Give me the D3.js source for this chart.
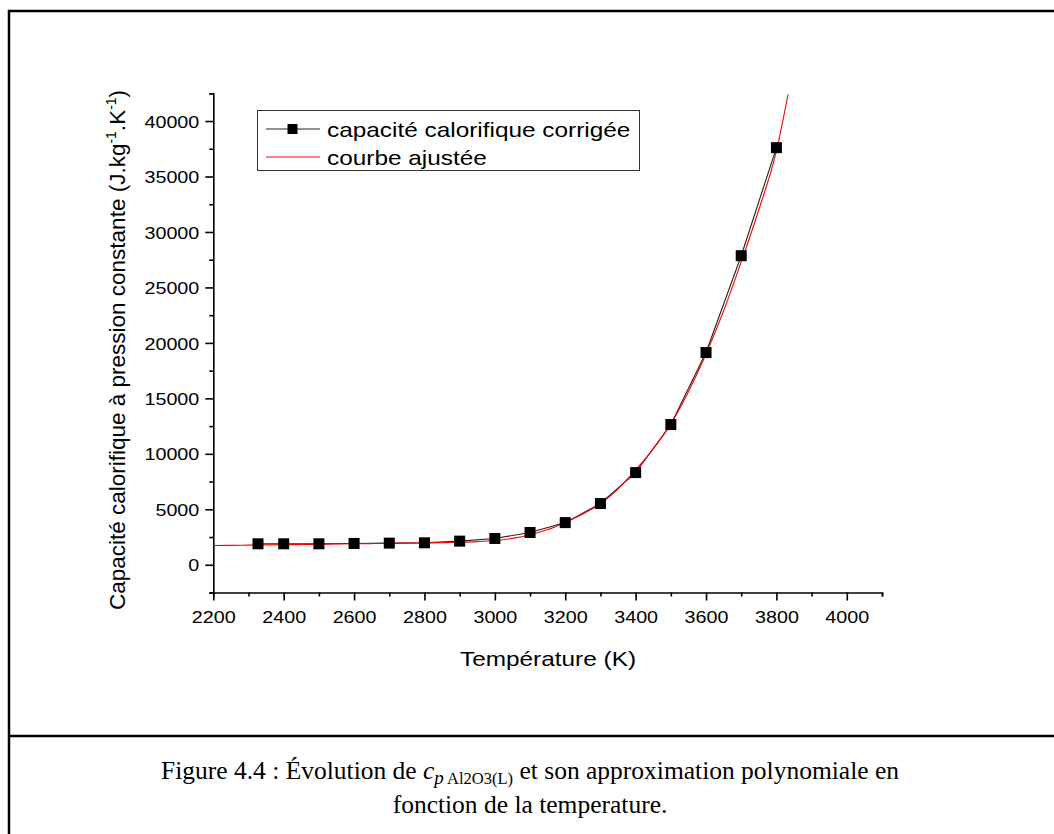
<!DOCTYPE html>
<html lang="en">
<head>
<meta charset="utf-8">
<script src="https://d3js.org/d3.v7.min.js"></script>
<style>
  body { margin: 0; background: #fff; }
  text { font-family: "Liberation Sans", Arial, sans-serif; }
</style>
</head>
<body>
<div id="chart"></div>
<script>

// measured cp values (K, J/kg/K)
var tempPoints = [2327, 2400, 2500, 2600, 2700, 2800, 2900, 3000, 3100, 3200, 3300, 3400, 3500, 3600, 3700, 3800];
var cpPoints   = [1890, 1890, 1890, 1920, 1950, 1980, 2130, 2370, 2910, 3800, 5520, 8310, 12640, 19130, 27860, 37600];

// fitted curve
var tempFit = [2200, 2250, 2300, 2350, 2400, 2450, 2500, 2550, 2600, 2650, 2700, 2750, 2800, 2850, 2900, 2950, 3000, 3050, 3100, 3150, 3200, 3250, 3300, 3350, 3400, 3450, 3500, 3550, 3600, 3650, 3700, 3750, 3800, 3833];
var cpFit   = [1740, 1750, 1770, 1790, 1810, 1830, 1850, 1870, 1890, 1910, 1930, 1950, 1970, 1990, 2030, 2090, 2190, 2380, 2700, 3170, 3820, 4580, 5500, 6850, 8550, 10450, 12700, 15600, 19000, 22900, 27300, 32000, 37300, 42400];

var xTicks = [2200, 2400, 2600, 2800, 3000, 3200, 3400, 3600, 3800, 4000];
var yTicks = [0, 5000, 10000, 15000, 20000, 25000, 30000, 35000, 40000];

var W = 1054, H = 834;
var svg = d3.select("#chart").append("svg")
  .attr("width", W).attr("height", H);

// the original text looks horizontally stretched
function widen(sel, k) {
  sel.each(function() {
    var len = this.getComputedTextLength();
    d3.select(this).attr("textLength", len * k).attr("lengthAdjust", "spacingAndGlyphs");
  });
}

// frame around figure and caption
svg.append("path")
  .attr("d", "M9,860 L9,11 L1060,11")
  .attr("fill", "none").attr("stroke", "#000").attr("stroke-width", 2.5);
svg.append("line")
  .attr("x1", 9).attr("x2", 1060).attr("y1", 736).attr("y2", 736)
  .attr("stroke", "#000").attr("stroke-width", 2.5);

var x = d3.scaleLinear().domain([2200, 4100]).range([213.3, 882]);
var y = d3.scaleLinear().domain([-2500, 42500]).range([592.5, 93.3]);

// x axis
var gx = svg.append("g").attr("transform", "translate(0," + y(-2500) + ")");
gx.call(d3.axisBottom(x).tickValues(d3.range(2200, 4101, 100)).tickSize(4).tickFormat(""));
gx.call(g => g.selectAll(".tick").filter(d => xTicks.indexOf(d) >= 0).select("line").attr("y2", 8));
gx.selectAll(".tick").filter(d => xTicks.indexOf(d) >= 0).append("text")
  .attr("y", 30).attr("fill", "#000").attr("font-size", 17).attr("text-anchor", "middle")
  .text(d => d)
  .call(widen, 1.16);

// y axis
var gy = svg.append("g").attr("transform", "translate(" + x(2200) + ",0)");
gy.call(d3.axisLeft(y).tickValues(d3.range(-2500, 42501, 2500)).tickSize(4).tickFormat(""));
gy.call(g => g.selectAll(".tick").filter(d => yTicks.indexOf(d) >= 0).select("line").attr("x2", -8));
gy.selectAll(".tick").filter(d => yTicks.indexOf(d) >= 0).append("text")
  .attr("x", -14).attr("dy", "0.36em").attr("fill", "#000").attr("font-size", 17).attr("text-anchor", "end")
  .text(d => d)
  .call(widen, 1.16);

svg.selectAll(".domain").attr("stroke-width", 1.6);
svg.selectAll(".tick line").attr("stroke-width", 1.6);

// axis titles
svg.append("text")
  .attr("x", 548).attr("y", 666).attr("text-anchor", "middle").attr("font-size", 21)
  .text("Température (K)")
  .call(widen, 1.16);

var yl = svg.append("text")
  .attr("transform", "translate(125,350) rotate(-90)")
  .attr("text-anchor", "middle").attr("font-size", 22.5);
yl.append("tspan").text("Capacité calorifique à pression constante (J.kg");
yl.append("tspan").attr("font-size", 14).attr("dy", -9).text("-1");
yl.append("tspan").attr("dy", 9).text(".K");
yl.append("tspan").attr("font-size", 14).attr("dy", -9).text("-1");
yl.append("tspan").attr("dy", 9).text(")");

// data series
var line = d3.line().x(d => x(d[0])).y(d => y(d[1]));

svg.append("path")
  .datum(tempPoints.map((t, i) => [t, cpPoints[i]]))
  .attr("d", line)
  .attr("fill", "none").attr("stroke", "#222").attr("stroke-width", 1.1);

svg.append("path")
  .datum(tempFit.map((t, i) => [t, cpFit[i]]))
  .attr("d", line.curve(d3.curveMonotoneX))
  .attr("fill", "none").attr("stroke", "#ff0000").attr("stroke-width", 1.1);

svg.selectAll("rect.pt")
  .data(tempPoints.map((t, i) => [t, cpPoints[i]]))
  .enter().append("rect").attr("class", "pt")
  .attr("x", d => x(d[0]) - 5.5).attr("y", d => y(d[1]) - 5.5)
  .attr("width", 11).attr("height", 11).attr("fill", "#000");

// legend
var lg = svg.append("g");
lg.append("rect").attr("x", 257.5).attr("y", 110.5).attr("width", 382).attr("height", 60)
  .attr("fill", "#fff").attr("stroke", "#333").attr("stroke-width", 1);
lg.append("line").attr("x1", 266).attr("x2", 320).attr("y1", 129).attr("y2", 129)
  .attr("stroke", "#222").attr("stroke-width", 1);
lg.append("rect").attr("x", 287.5).attr("y", 124).attr("width", 10).attr("height", 10).attr("fill", "#000");
lg.append("line").attr("x1", 266).attr("x2", 320).attr("y1", 157).attr("y2", 157)
  .attr("stroke", "#ff0000").attr("stroke-width", 1);
lg.append("text").attr("x", 327).attr("y", 136.5).attr("font-size", 21).text("capacité calorifique corrigée")
  .call(widen, 1.16);
lg.append("text").attr("x", 327).attr("y", 164.5).attr("font-size", 21).text("courbe ajustée")
  .call(widen, 1.16);

// caption
var serif = "'Liberation Serif', 'Times New Roman', serif";
var c1 = svg.append("text").attr("x", 530).attr("y", 779).attr("text-anchor", "middle")
  .attr("font-size", 25.5).style("font-family", serif);
c1.append("tspan").text("Figure 4.4 : Évolution de ");
c1.append("tspan").attr("font-style", "italic").text("c");
c1.append("tspan").attr("font-style", "italic").attr("font-size", 19).attr("dy", 5).text("p");
c1.append("tspan").attr("font-size", 16.5).text(" Al2O3(L)");
c1.append("tspan").attr("dy", -5).text(" et son approximation polynomiale en");
svg.append("text").attr("x", 530).attr("y", 813).attr("text-anchor", "middle")
  .attr("font-size", 25.5).style("font-family", serif)
  .text("fonction de la temperature.");

</script>
</body>
</html>
